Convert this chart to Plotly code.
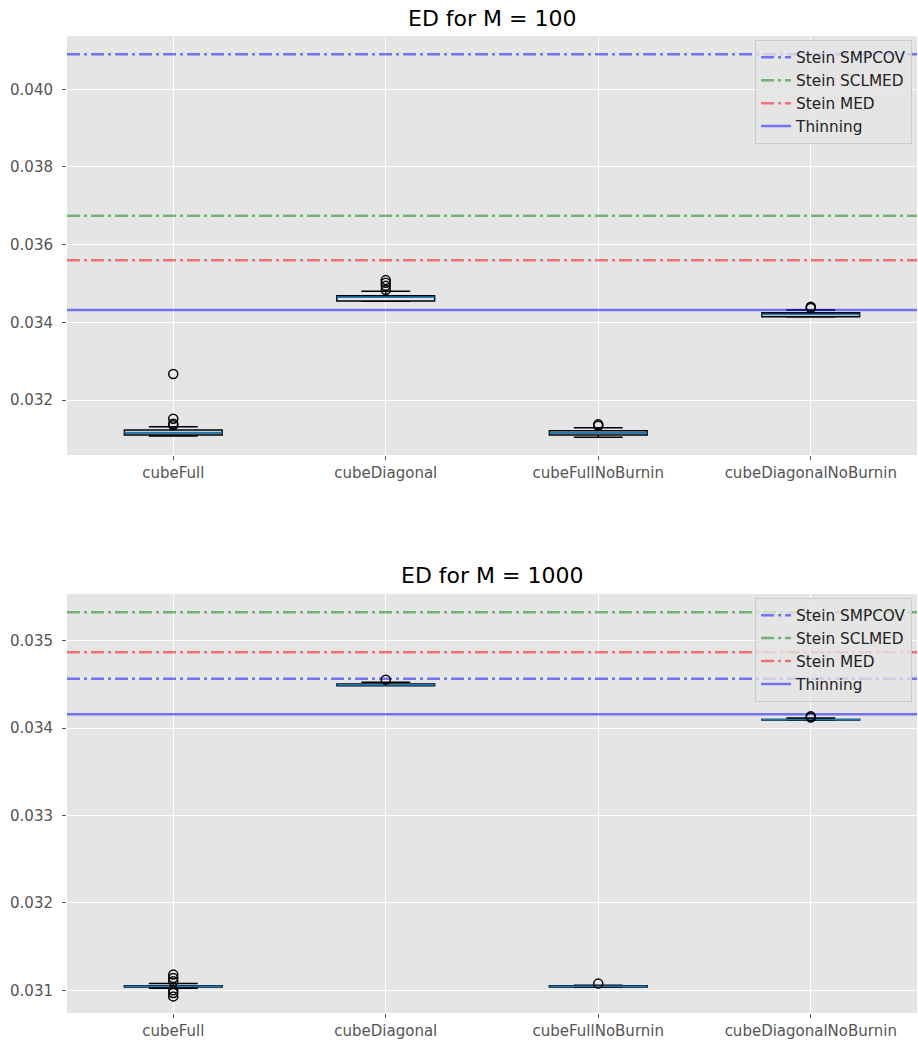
import plotly.graph_objects as go

# Box-plot categories and their x positions
categories = ["cubeFull", "cubeDiagonal", "cubeFullNoBurnin", "cubeDiagonalNoBurnin"]
positions = [1, 2, 3, 4]

# ---- ED for M = 100 : box statistics ----
m100_lower = [0.031073, 0.034540, 0.031040, 0.034140]
m100_q1 = [0.031099, 0.034548, 0.031099, 0.034144]
m100_median = [0.031158, 0.034651, 0.031158, 0.034206]
m100_q3 = [0.031228, 0.034685, 0.031210, 0.034247]
m100_upper = [0.031313, 0.034798, 0.031287, 0.034317]
m100_outliers = [
    [0.03267, 0.03152, 0.03139, 0.03135],
    [0.035088, 0.035018, 0.034940, 0.034832],
    [0.031374, 0.031340],
    [0.034402, 0.034368],
]
# Reference levels for M = 100
m100_lines = {
    "Stein SMPCOV": 0.040901,
    "Stein SCLMED": 0.036747,
    "Stein MED": 0.035598,
    "Thinning": 0.034317,
}

# ---- ED for M = 1000 : box statistics ----
m1000_lower = [0.031025, 0.034483, 0.031035, 0.034090]
m1000_q1 = [0.031037, 0.034485, 0.031037, 0.034093]
m1000_median = [0.031046, 0.034495, 0.031046, 0.034096]
m1000_q3 = [0.031054, 0.034504, 0.031054, 0.034099]
m1000_upper = [0.031077, 0.034523, 0.031058, 0.034116]
m1000_outliers = [
    [0.031180, 0.031142, 0.031103, 0.031000, 0.030970, 0.030931],
    [0.034554],
    [0.031077],
    [0.034134, 0.034122],
]
# Reference levels for M = 1000
m1000_lines = {
    "Stein SMPCOV": 0.034565,
    "Stein SCLMED": 0.035324,
    "Stein MED": 0.034866,
    "Thinning": 0.034157,
}

line_styles = {
    "Stein SMPCOV": dict(color="rgba(0,0,255,0.5)", dash="13px,4px,3px,4px"),
    "Stein SCLMED": dict(color="rgba(0,128,0,0.5)", dash="13px,4px,3px,4px"),
    "Stein MED": dict(color="rgba(255,0,0,0.5)", dash="13px,4px,3px,4px"),
    "Thinning": dict(color="rgba(0,0,255,0.5)", dash="solid"),
}

BOX_W = 0.46
MEDIAN_COLOR = "#1f77b4"
FONT = "DejaVu Sans"

fig = go.Figure()


def add_panel(xa, ya, legend, lines, lower, q1, med, q3, upper, outliers):
    # horizontal reference lines spanning the whole axis
    for name, val in lines.items():
        st = line_styles[name]
        fig.add_trace(go.Scatter(
            x=[0.5, 4.5], y=[val, val], mode="lines", name=name,
            line=dict(color=st["color"], dash=st["dash"], width=2.5),
            xaxis=xa, yaxis=ya, legend=legend, hoverinfo="skip",
        ))
    for i, p in enumerate(positions):
        fig.add_trace(go.Box(
            x=[p], q1=[q1[i]], median=[med[i]], q3=[q3[i]],
            lowerfence=[lower[i]], upperfence=[upper[i]],
            width=BOX_W, whiskerwidth=0.5, boxpoints=False,
            line=dict(color="black", width=1.5),
            fillcolor="rgba(0,0,0,0)", showlegend=False,
            xaxis=xa, yaxis=ya,
        ))
        fig.add_trace(go.Scatter(
            x=[p - BOX_W / 2, p + BOX_W / 2], y=[med[i], med[i]],
            mode="lines", line=dict(color=MEDIAN_COLOR, width=1.8),
            showlegend=False, xaxis=xa, yaxis=ya, hoverinfo="skip",
        ))
        fig.add_trace(go.Scatter(
            x=[p] * len(outliers[i]), y=outliers[i], mode="markers",
            marker=dict(symbol="circle-open", size=9, color="black",
                        line=dict(width=1.5, color="black")),
            showlegend=False, xaxis=xa, yaxis=ya,
        ))


add_panel("x", "y", "legend", m100_lines, m100_lower, m100_q1, m100_median,
          m100_q3, m100_upper, m100_outliers)
add_panel("x2", "y2", "legend2", m1000_lines, m1000_lower, m1000_q1,
          m1000_median, m1000_q3, m1000_upper, m1000_outliers)

axis_common = dict(
    showgrid=True, gridcolor="white", gridwidth=1.2, zeroline=False,
    ticks="outside", ticklen=4, tickwidth=1, tickcolor="#555555",
    tickfont=dict(family=FONT, size=15, color="#555555"), showline=False,
)

xaxis_common = dict(axis_common, range=[0.5, 4.5], tickvals=positions,
                    ticktext=categories)

legend_common = dict(
    bgcolor="rgba(229,229,229,0.8)", bordercolor="#cccccc", borderwidth=1,
    font=dict(family=FONT, size=15.3, color="#222222"), xanchor="left",
    yanchor="top", itemwidth=30, tracegroupgap=0,
)

fig.update_layout(
    width=918, height=1044,
    margin=dict(l=67, r=1, t=36, b=31),
    paper_bgcolor="white", plot_bgcolor="#E5E5E5",
    font=dict(family=FONT),
    xaxis=dict(xaxis_common, domain=[0, 1], anchor="y"),
    yaxis=dict(axis_common, domain=[0.5711, 1], range=[0.030584, 0.041372],
               tickvals=[0.032, 0.034, 0.036, 0.038, 0.040], tickformat=".3f",
               ticklabelstandoff=6, anchor="x"),
    xaxis2=dict(xaxis_common, domain=[0, 1], anchor="y2"),
    yaxis2=dict(axis_common, domain=[0, 0.4289], range=[0.030741, 0.035534],
                tickvals=[0.031, 0.032, 0.033, 0.034, 0.035], tickformat=".3f",
                ticklabelstandoff=6, anchor="x2"),
    legend=dict(legend_common, x=0.8095, y=0.996),
    legend2=dict(legend_common, x=0.8095, y=0.425),
    annotations=[
        dict(text="ED for M = 100", x=0.5, y=1.0184, xref="paper", yref="paper",
             xanchor="center", yanchor="middle", showarrow=False,
             font=dict(family=FONT, size=22, color="black")),
        dict(text="ED for M = 1000", x=0.5, y=0.4476, xref="paper", yref="paper",
             xanchor="center", yanchor="middle", showarrow=False,
             font=dict(family=FONT, size=22, color="black")),
    ],
)

fig.write_html("out.html")
